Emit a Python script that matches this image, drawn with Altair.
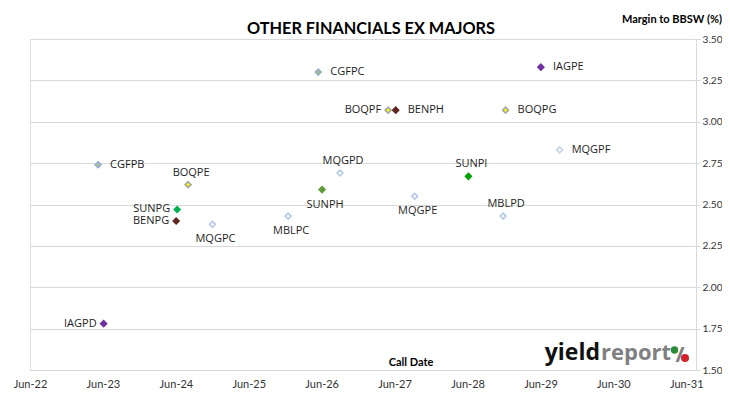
import altair as alt
import pandas as pd

# ---- data ----
tickers = ["CGFPB", "IAGPD", "BOQPE", "SUNPG", "BENPG", "MQGPC", "MBLPC", "CGFPC", "SUNPH",
           "MQGPD", "BOQPF", "BENPH", "MQGPE", "SUNPI", "MBLPD", "BOQPG", "IAGPE", "MQGPF"]
call_dates = ["2023-05-08", "2023-06-05", "2024-08-01", "2024-06-07", "2024-06-02", "2024-12-01",
              "2025-12-15", "2026-05-15", "2026-06-03", "2026-09-01", "2027-04-30", "2027-06-07",
              "2027-09-10", "2028-06-05", "2028-11-26", "2028-12-08", "2029-06-03", "2029-09-05"]
margins = [2.74, 1.78, 2.62, 2.47, 2.40, 2.38, 2.43, 3.30, 2.59,
           2.69, 3.07, 3.07, 2.55, 2.67, 2.43, 3.07, 3.33, 2.83]
label_side = ["right", "left", "above", "left", "left", "below", "below", "right", "below",
              "above", "left", "right", "below", "above", "above", "right", "right", "right"]

tick_years = list(range(2022, 2032))
y_ticks = [1.50, 1.75, 2.00, 2.25, 2.50, 2.75, 3.00, 3.25, 3.50]

# ---- styles ----
fill_colors = ["#B3C67C", "#7030A0", "#FFFF00", "#00B050", "#632523", "#FFFFFF", "#FFFFFF", "#A3BD7E", "#5E9C3A",
               "#FFFFFF", "#FFFF00", "#632523", "#FFFFFF", "#00A000", "#FFFFFF", "#FFFF00", "#7030A0", "#FFFFFF"]
stroke_colors = ["#8EA9DB", "#7030A0", "#A6A6A6", "#00B050", "#632523", "#B4C7E7", "#B4C7E7", "#98AFC9", "#5E9C3A",
                 "#B4C7E7", "#A6A6A6", "#632523", "#B4C7E7", "#00A000", "#B4C7E7", "#A6A6A6", "#7030A0", "#C5D3EA"]

df = pd.DataFrame({"ticker": tickers, "date": call_dates, "margin": margins, "side": label_side})


def ms(s):
    return int(pd.Timestamp(s, tz="UTC").value // 10**6)


x_domain = [ms("2022-06-01"), ms("2031-07-20")]
x_values = [ms(f"{y}-06-01") for y in tick_years]

x_enc = alt.X("date:T", scale=alt.Scale(type="utc", domain=x_domain),
              axis=alt.Axis(values=x_values, labelExpr="utcFormat(datum.value, '%b-%y')",
                            ticks=False, domain=False, grid=False, labelPadding=8,
                            labelFlush=False, labelOverlap=False, labelBound=False,
                            labelFont="Lato", labelFontSize=11, labelColor="#333333", title=None))
y_enc = alt.Y("margin:Q", scale=alt.Scale(domain=[1.5, 3.5], nice=False, zero=False),
              axis=alt.Axis(orient="right", values=y_ticks, format=".2f", grid=True, gridColor="#D9D9D9",
                            domainColor="#D9D9D9", tickColor="#D9D9D9", tickSize=4, labelPadding=2,
                            labelFlush=False, labelOverlap=False,
                            labelFont="Lato", labelFontSize=10.2, labelColor="#333333", title=None))

base = alt.Chart(df)

points = base.mark_point(shape="diamond", size=34, strokeWidth=1.6, opacity=1, fillOpacity=1).encode(
    x=x_enc, y=y_enc,
    fill=alt.Fill("ticker:N", scale=alt.Scale(domain=tickers, range=fill_colors), legend=None),
    stroke=alt.Stroke("ticker:N", scale=alt.Scale(domain=tickers, range=stroke_colors), legend=None),
)

label_style = dict(font="Open Sans", fontSize=11, color="#1E1E1E")
sides = {
    "right": dict(align="left", baseline="middle", dx=12, dy=0),
    "left": dict(align="right", baseline="middle", dx=-7, dy=0),
    "above": dict(align="center", baseline="alphabetic", dx=3, dy=-9),
    "below": dict(align="center", baseline="top", dx=3, dy=9),
}
label_layers = [
    base.transform_filter(alt.datum.side == s).mark_text(**label_style, **opts).encode(
        x="date:T", y="margin:Q", text="ticker:N")
    for s, opts in sides.items()
]

one = alt.Chart(pd.DataFrame({"k": [0]}))


def txt(text, x, y, **kw):
    return one.mark_text(text=text, **kw).encode(x=alt.value(x), y=alt.value(y))


title = txt("OTHER FINANCIALS EX MAJORS", 341, -5, font="Lato", fontSize=16.3, fontWeight="bold",
            color="#000000", align="center", baseline="alphabetic")
ytitle = txt("Margin to BBSW (%)", 692, -16, font="Lato", fontSize=11, fontWeight="bold",
             color="#000000", align="right", baseline="alphabetic")
xtitle = txt("Call Date", 381, 327, font="Lato", fontSize=11, fontWeight="bold",
             color="#000000", align="center", baseline="alphabetic")
logo1 = txt("yield", 570, 321, font="Open Sans", fontSize=23, fontWeight="bold",
            color="#111111", align="right", baseline="alphabetic")
logo2 = txt("report", 571, 321, font="Open Sans", fontSize=22, fontWeight="bold",
            color="#808080", align="left", baseline="alphabetic")
slash = txt("/", 650, 323, font="Open Sans", fontSize=22, fontWeight="bold",
            color="#808080", align="center", baseline="alphabetic")
dot_g = one.mark_point(shape="circle", filled=True, size=55, color="#2E8B3A", opacity=1).encode(
    x=alt.value(644.5), y=alt.value(311))
dot_r = one.mark_point(shape="circle", filled=True, size=65, color="#D2232A", opacity=1).encode(
    x=alt.value(655), y=alt.value(319))

chart = alt.layer(points, *label_layers, title, ytitle, xtitle, logo1, logo2, slash, dot_g, dot_r).properties(
    width=666, height=331,
    autosize=alt.AutoSizeParams(type="none"),
    padding={"left": 22, "top": 31, "right": 26, "bottom": 20},
).configure_view(stroke="#D9D9D9", strokeWidth=1).configure(background="white")

chart.save("out.html", embed_options={"renderer": "svg", "actions": False})
